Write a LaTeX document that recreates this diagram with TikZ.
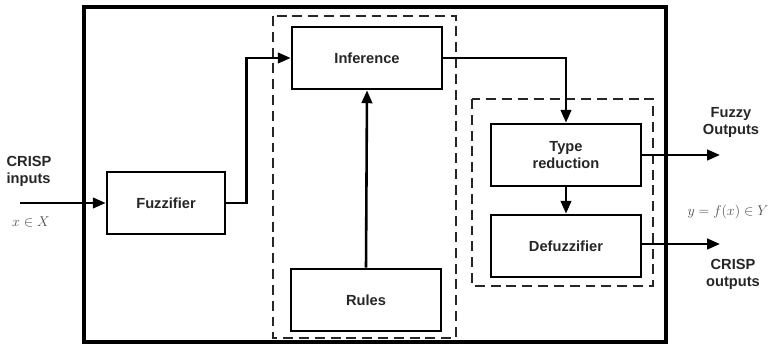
\documentclass[tikz,border=0pt]{standalone}
\usepackage{fontspec}
\setsansfont{Liberation Sans}
\usepackage{tikz}
\usetikzlibrary{positioning, arrows.meta}
\tikzset{
    block/.style={rectangle, draw=black, fill=white, line width=2.3pt, minimum width=4.5cm, minimum height=1.86cm, align=center, font=\sffamily\bfseries\fontsize{12.5}{14.5}\selectfont, text=black!85},
    dashbox/.style={draw=black!85, line width=1.5pt, dash pattern=on 8.5pt off 5pt},
    frame/.style={draw=black, line width=3.3pt},
    arr/.style={line width=2.2pt, -{Triangle[length=11pt,width=9pt]}},
    lbl/.style={align=center, font=\sffamily\bfseries\fontsize{12.5}{14.5}\selectfont, text=black!85},
    mlbl/.style={text=black!70, font=\fontsize{13}{15}\selectfont},
}

\begin{document}
\begin{tikzpicture}[x=0.03cm, y=-0.03cm]
        \useasboundingbox (0,0) rectangle (775,347);
        \draw [frame] (84,7) rectangle (666,342);
        \draw [dashbox] (273,16) rectangle (456,338);
        \draw [dashbox] (472,99) rectangle (653,286);
        \node [block, minimum width=3.54cm] (fuzz) at (166,203) {Fuzzifier};
        \node [block] (inf) at (367,58) {Inference};
        \node [block] (rules) at (366,300) {Rules};
        \node [block] (typered) at (566,155) {Type\\reduction};
        \node [block] (defuzz) at (566,246) {Defuzzifier};
        \coordinate (crispin) at (20,203);
        \coordinate (fuzzyout) at (720,155);
        \coordinate (crispout) at (720,244);
        \node [lbl, align=left] (inlbl) at (29,171) {CRISP\\inputs};
        \node [mlbl] (inset) at (31,222) {$x\in X$};
        \node [lbl] (fuzzylbl) at (731,122) {Fuzzy\\Outputs};
        \node [mlbl] (outset) at (728,212) {$y=f(x)\in Y$};
        \node [lbl] (outlbl) at (733,274) {CRISP\\outputs};
        \draw [arr] (crispin) -- (fuzz.west);
        \draw [arr] (fuzz.east) -- ++(20,0) |- (inf.west);
        \draw [arr] (inf.east) -| (typered.north);
        \draw [arr] (rules.north) -- (inf.south);
        \draw [arr] (typered.south) -- (defuzz.north);
        \draw [arr] (typered.east) -- (fuzzyout);
        \draw [arr] (defuzz.east |- crispout) -- (crispout);
    \end{tikzpicture}
\end{document}
